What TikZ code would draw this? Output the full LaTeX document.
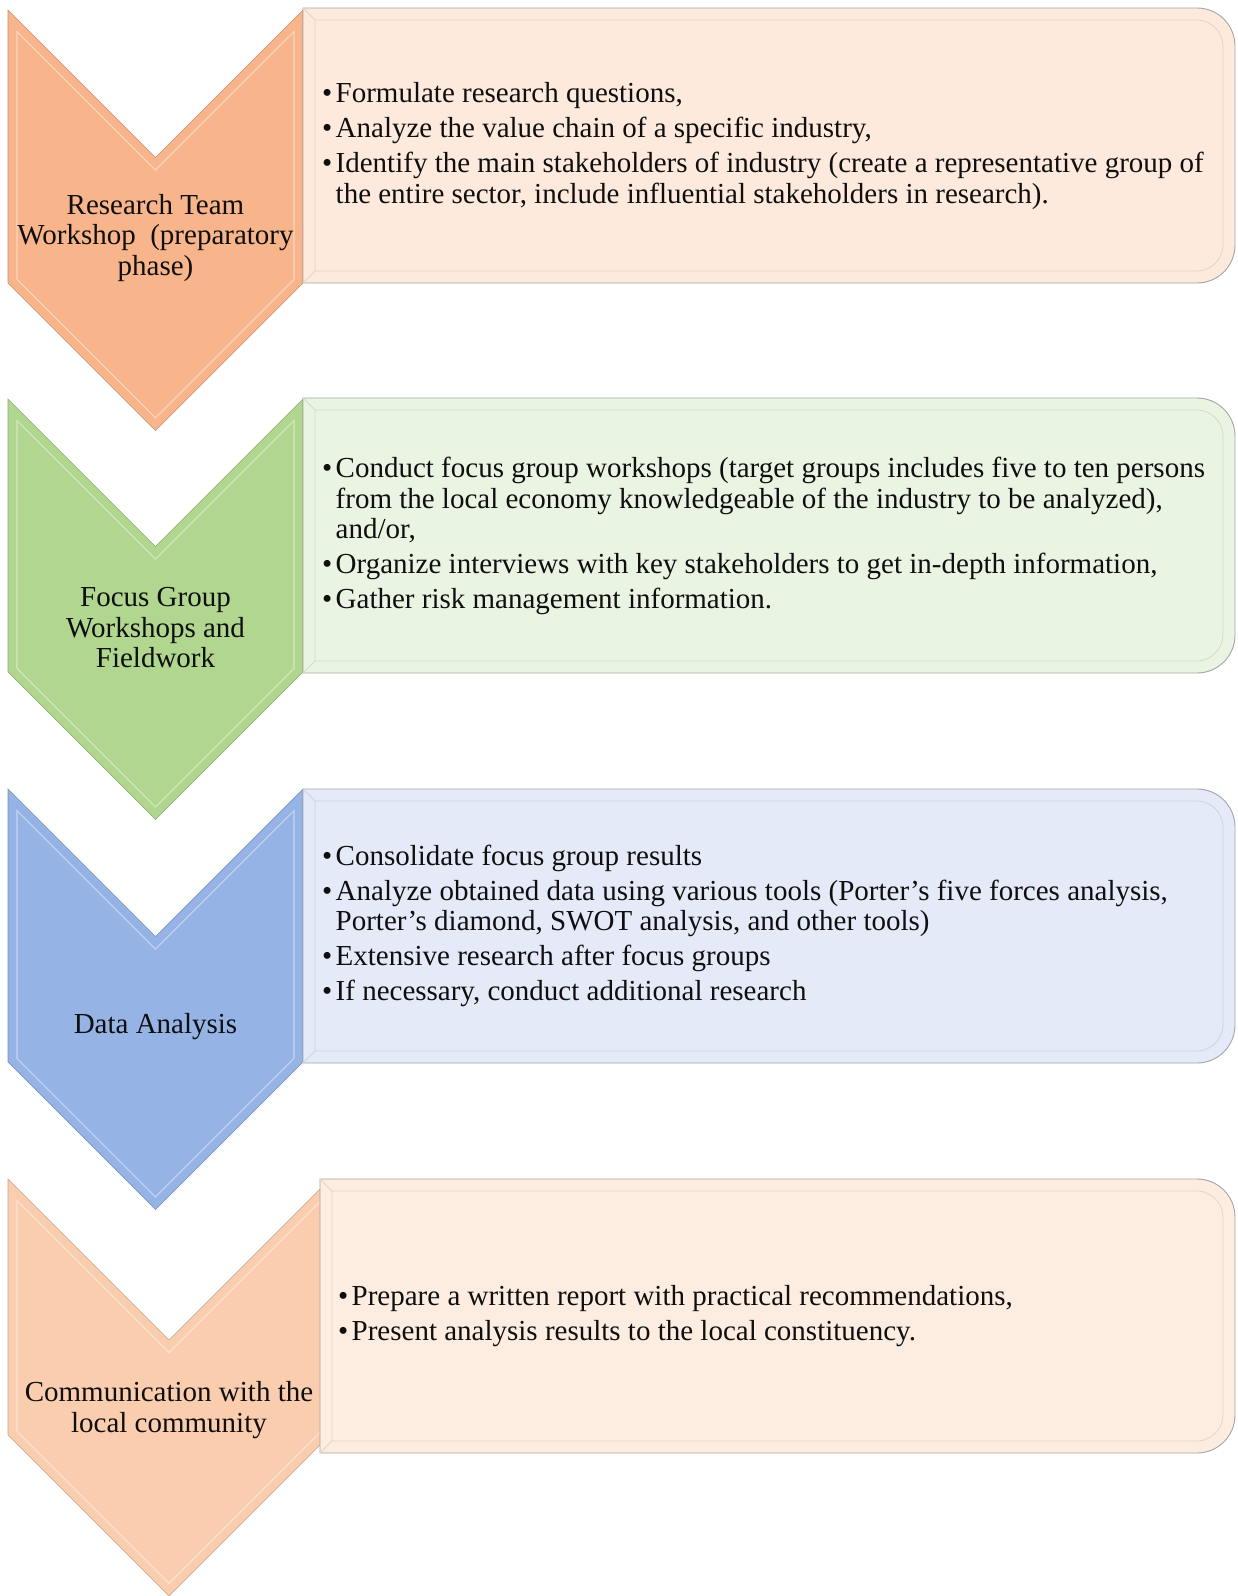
\documentclass[tikz,border=0pt]{standalone}
\usepackage{fontspec}
\setmainfont{Liberation Serif}
\definecolor{ink}{RGB}{15,15,15}
\definecolor{edgegray}{RGB}{165,165,165}
\definecolor{stageA}{RGB}{248,181,140}
\definecolor{stageB}{RGB}{176,214,143}
\definecolor{stageC}{RGB}{149,179,229}
\definecolor{stageD}{RGB}{250,205,175}
\definecolor{noteA}{RGB}{253,234,221}
\definecolor{noteB}{RGB}{234,244,226}
\definecolor{noteC}{RGB}{228,234,248}
\definecolor{noteD}{RGB}{253,237,225}
\newlength{\bulw}
\setlength{\bulw}{13.5pt}
\newcommand{\bulletmark}{\makebox[\bulw][l]{•}}
\newcommand{\hangmark}{\hspace*{\bulw}}
\tikzset{
    line join=round,
    chevronbody/.style={
        fill=#1,
        draw=#1!80!black,
        line width=0.6pt
    },
    chevronbevel/.style={
        draw=#1!55!white,
        line width=1.1pt
    },
    notepanel/.style={
        fill=#1,
        draw=edgegray,
        line width=0.9pt
    },
    notebevel/.style={
        draw=#1!90!black,
        line width=0.8pt
    },
    stagelabel/.style={
        align=center,
        text=ink,
        inner sep=0pt,
        font=\fontsize{29}{30.5}\selectfont
    },
    notetext/.style={
        align=left,
        anchor=west,
        text=ink,
        inner sep=0pt,
        font=\fontsize{29}{30.5}\selectfont
    }
}

\begin{document}
\begin{tikzpicture}[x=1pt, y=-1pt]

\useasboundingbox (0,0) rectangle (1238,1596);

% chevrons of the first three stages
\foreach \top/\col in {10/stageA, 399/stageB, 789/stageC} {
    \path[chevronbody=\col] (8,\top) -- (155.5,\top+147.5) -- (303,\top)
        -- (303,\top+273) -- (155.5,\top+420.5) -- (8,\top+273) -- cycle;
    \draw[chevronbevel=\col] (17,\top+21.7) -- (155.5,\top+160.2) -- (294,\top+21.7)
        -- (294,\top+269.3) -- (155.5,\top+407.8) -- (17,\top+269.3) -- cycle;
}

% last chevron is a little wider
\path[chevronbody=stageD] (8,1179) -- (169,1340) -- (330,1179)
    -- (330,1435) -- (169,1596) -- (8,1435) -- cycle;
\draw[chevronbevel=stageD] (17,1200.7) -- (169,1352.7) -- (321,1200.7)
    -- (321,1431.3) -- (169,1583.3) -- (17,1431.3) -- cycle;

% note panels, rounded on the right only
\foreach \xl/\ytop/\ybot/\col in {303/8/283/noteA, 303/398/673/noteB, 303/789/1063/noteC, 320/1179/1453/noteD} {
    \path[notepanel=\col] (\xl,\ytop) -- (1197,\ytop)
        .. controls (1218,\ytop) and (1235,\ytop+17) .. (1235,\ytop+38)
        -- (1235,\ybot-38)
        .. controls (1235,\ybot-17) and (1218,\ybot) .. (1197,\ybot)
        -- (\xl,\ybot) -- cycle;
    \draw[notebevel=\col] (\xl+12,\ytop+12) -- (1197,\ytop+12)
        .. controls (1211,\ytop+12) and (1223,\ytop+24) .. (1223,\ytop+38)
        -- (1223,\ybot-38)
        .. controls (1223,\ybot-24) and (1211,\ybot-12) .. (1197,\ybot-12)
        -- (\xl+12,\ybot-12) -- cycle;
    \draw[notebevel=\col] (\xl,\ytop) -- (\xl+12,\ytop+12);
    \draw[notebevel=\col] (\xl,\ybot) -- (\xl+12,\ybot-12);
}

\node[stagelabel] (stageA) at (155.5,238) {Research Team\\Workshop~ (preparatory\\phase)};
\node[stagelabel] (stageB) at (155.5,628) {Focus Group\\Workshops and\\Fieldwork};
\node[stagelabel] (stageC) at (155.5,1027) {Data Analysis};
\node[stagelabel] (stageD) at (169,1410) {Communication with the\\local community};

\node[notetext] (notesA) at (322,146) {%
    \bulletmark Formulate research questions,\\[4.5pt]
    \bulletmark Analyze the value chain of a specific industry,\\[4.5pt]
    \bulletmark Identify the main stakeholders of industry (create a representative group of\\
    \hangmark the entire sector, include influential stakeholders in research).};

\node[notetext] (notesB) at (322,536) {%
    \bulletmark Conduct focus group workshops (target groups includes five to ten persons\\
    \hangmark from the local economy knowledgeable of the industry to be analyzed),\\
    \hangmark and/or,\\[4.5pt]
    \bulletmark Organize interviews with key stakeholders to get in-depth information,\\[4.5pt]
    \bulletmark Gather risk management information.};

\node[notetext] (notesC) at (322,926) {%
    \bulletmark Consolidate focus group results\\[4.5pt]
    \bulletmark Analyze obtained data using various tools (Porter’s five forces analysis,\\
    \hangmark Porter’s diamond, SWOT analysis, and other tools)\\[4.5pt]
    \bulletmark Extensive research after focus groups\\[4.5pt]
    \bulletmark If necessary, conduct additional research};

\node[notetext] (notesD) at (338,1316) {%
    \bulletmark Prepare a written report with practical recommendations,\\[4.5pt]
    \bulletmark Present analysis results to the local constituency.};

\end{tikzpicture}
\end{document}
